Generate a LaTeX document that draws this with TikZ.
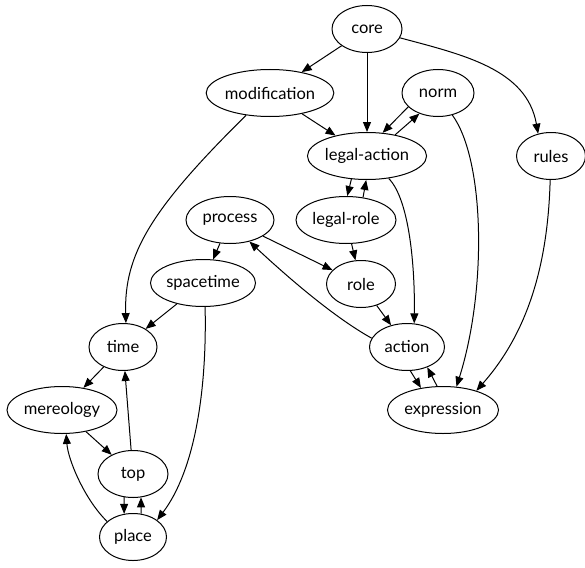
\documentclass[tikz,border=0pt]{standalone}
\usepackage{fontspec}
\setmainfont{Lato}
\usetikzlibrary{shapes.geometric,arrows.meta}
\begin{document}
\begin{tikzpicture}[x=1pt,y=1pt,
  nd/.style={draw,ellipse,line width=1pt,inner sep=0pt,minimum height=47pt,font=\fontsize{16.5}{19}\selectfont},
  arr/.style={line width=1pt,-{Triangle[length=10pt,width=8pt]}}]
\useasboundingbox (0,0) rectangle (585,-567);
\node[nd,minimum width=70pt]  (core)  at (367,-29) {core};
\node[nd,minimum width=124pt] (modification) at (270,-93) {modification};
\node[nd,minimum width=72pt]  (norm)  at (438,-93) {norm};
\node[nd,minimum width=114pt] (legal-action) at (367,-156) {legal-action};
\node[nd,minimum width=69pt]  (rules) at (551,-156) {rules};
\node[nd,minimum width=88pt]  (process) at (230,-220) {process};
\node[nd,minimum width=100pt] (legal-role) at (346,-220) {legal-role};
\node[nd,minimum width=105pt] (spacetime) at (203,-283) {spacetime};
\node[nd,minimum width=69pt]  (role) at (361,-284) {role};
\node[nd,minimum width=68pt]  (time) at (123,-347) {time};
\node[nd,minimum width=75pt]  (action) at (407,-347) {action};
\node[nd,minimum width=110pt] (mereology) at (62,-410) {mereology};
\node[nd,minimum width=111pt] (expression) at (443,-410) {expression};
\node[nd,minimum width=70pt]  (top) at (133,-474) {top};
\node[nd,minimum width=67pt]  (place) at (133,-537) {place};

\draw[arr] (core) -- (modification);
\draw[arr] (core) -- (legal-action);
\draw[arr] (core.-15) to[out=-15,in=100] (rules.120);
\draw[arr] (modification) -- (legal-action);
\draw[arr] (modification.-137) .. controls (150,-210) and (124,-255) .. (time.83);
\draw[arr] (norm.-155) -- (legal-action.56);
\draw[arr] (legal-action.37) -- (norm.-132);
\draw[arr] (norm.-57) .. controls (485,-160) and (487,-290) .. (expression.60);
\draw[arr] (legal-action.-124) -- (legal-role.87);
\draw[arr] (legal-role.53.5) -- (legal-action.-92.6);
\draw[arr] (legal-action.-46) .. controls (410,-200) and (415,-270) .. (action.73);
\draw[arr] (rules.-92) .. controls (548,-260) and (530,-330) .. (expression.30);
\draw[arr] (process) -- (spacetime);
\draw[arr] (process) -- (role);
\draw[arr] (legal-role) -- (role);
\draw[arr] (role) -- (action);
\draw[arr] (action.166) .. controls (330,-315) and (280,-270) .. (process.-48);
\draw[arr] (action.-82.6) -- (expression.135);
\draw[arr] (expression.104.6) -- (action.-45);
\draw[arr] (spacetime) -- (time);
\draw[arr] (spacetime.-85) .. controls (207,-390) and (195,-470) .. (place.35);
\draw[arr] (time) -- (mereology);
\draw[arr] (mereology) -- (top);
\draw[arr] (top) -- (time);
\draw[arr] (place.149) .. controls (85,-500) and (68,-460) .. (mereology.-80);
\draw[arr] (top.-111) -- (place.111);
\draw[arr] (place.71) -- (top.-71);
\end{tikzpicture}
\end{document}
